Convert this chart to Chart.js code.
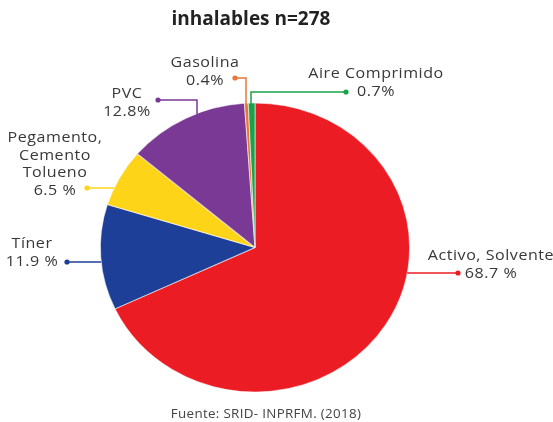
<!DOCTYPE html>
<html lang="es">
<head>
<meta charset="utf-8">
<title>inhalables n=278</title>
<script src="https://cdn.jsdelivr.net/npm/chart.js@4/dist/chart.umd.min.js"></script>
<style>
    html, body { margin: 0; padding: 0; background: #fff; }
    #wrap { width: 553px; height: 422px; position: relative; }
</style>
</head>
<body>
<div id="wrap"><canvas id="grafico"></canvas></div>
<script>
'use strict';

/* ── Datos ─────────────────────────────────────────────────────────────── */
const categorias = ['Activo, Solvente', 'Tíner', ['Pegamento,', 'Cemento', 'Tolueno'], 'PVC', 'Gasolina', 'Aire Comprimido'];
const porcentajes = [68.7, 11.9, 6.5, 12.8, 0.4, 0.7];
const sufijos = [' %', ' %', ' %', '%', '%', '%'];
const colores = ['#ec1c24', '#1e3f97', '#fed419', '#7a3994', '#e8763a', '#1aa24a'];

const titulo = 'inhalables n=278';
const fuente = 'Fuente: SRID- INPRFM. (2018)';

/* ── Posición de etiquetas (solo maquetación) ──────────────────────────────
   tx: centro del texto, ty: línea base de la primera línea,
   dot: punto del conector, codo: x del quiebre (null = línea horizontal)  */
const etiquetas = [
    { tx: 491, ty: 260, dot: [458, 273], codo: null },
    { tx: 32,  ty: 248, dot: [67, 262],  codo: null },
    { tx: 55,  ty: 142, dot: [87, 188],  codo: null },
    { tx: 127, ty: 98,  dot: [158, 100], codo: 197 },
    { tx: 205, ty: 67,  dot: [235, 78],  codo: 246 },
    { tx: 376, ty: 78,  dot: [346, 92],  codo: 251 }
];
const ESCALA_X = 1.07;   // la imagen original está algo estirada en horizontal
const FONT = '"Open Sans", sans-serif';

/* ── Estirar la torta en x ─────────────────────────────────────────────── */
const estirar = {
    id: 'estirar',
    beforeDatasetsDraw(chart) {
        const arc = chart.getDatasetMeta(0).data[0];
        const ctx = chart.ctx;
        ctx.save();
        ctx.translate(arc.x, arc.y);
        ctx.scale(ESCALA_X, 1);
        ctx.translate(-arc.x, -arc.y);
    },
    afterDatasetsDraw(chart) {
        chart.ctx.restore();
    }
};

// texto centrado y estirado igual que la imagen
function texto(ctx, t, x, y) {
    ctx.save();
    ctx.translate(x, y);
    ctx.scale(ESCALA_X, 1);
    ctx.fillText(t, 0, 0);
    ctx.restore();
}

/* ── Etiquetas, conectores, título y fuente ─────────────────────────────── */
const rotulos = {
    id: 'rotulos',
    afterDraw(chart) {
        const ctx = chart.ctx;
        const arc = chart.getDatasetMeta(0).data[0];
        const cx = arc.x, cy = arc.y, ry = arc.outerRadius, rx = ry * ESCALA_X;

        ctx.save();
        ctx.textAlign = 'center';
        ctx.textBaseline = 'alphabetic';

        // título
        ctx.fillStyle = '#222';
        ctx.font = 'bold 19px ' + FONT;
        ctx.fillText(titulo, 251, 25);

        // fuente
        ctx.fillStyle = '#444';
        ctx.font = '12.5px ' + FONT;
        ctx.letterSpacing = '0.3px';
        texto(ctx, fuente, 266, 418);

        etiquetas.forEach((e, i) => {
            const color = colores[i];
            const [dx, dy] = e.dot;

            // conector
            ctx.strokeStyle = color;
            ctx.lineWidth = 1.5;
            ctx.beginPath();
            ctx.moveTo(dx, dy);
            if (e.codo === null) {
                const k = Math.sqrt(Math.max(0, 1 - Math.pow((dy - cy) / ry, 2)));
                const ex = dx < cx ? cx - rx * k : cx + rx * k;
                ctx.lineTo(ex, dy);
            } else {
                const k = Math.sqrt(Math.max(0, 1 - Math.pow((e.codo - cx) / rx, 2)));
                ctx.lineTo(e.codo, dy);
                ctx.lineTo(e.codo, cy - ry * k + 1);
            }
            ctx.stroke();

            ctx.fillStyle = color;
            ctx.beginPath();
            ctx.arc(dx, dy, 2.6, 0, Math.PI * 2);
            ctx.fill();

            // texto
            const lineas = [].concat(categorias[i], porcentajes[i] + sufijos[i]);
            ctx.fillStyle = '#383838';
            ctx.font = '15px ' + FONT;
            ctx.letterSpacing = '0.5px';
            lineas.forEach((t, j) => texto(ctx, t, e.tx, e.ty + j * 17.5));
        });
        ctx.restore();
    }
};

new Chart(document.getElementById('grafico'), {
    type: 'pie',
    data: {
        labels: categorias.map(c => [].concat(c).join(' ')),
        datasets: [{
            data: porcentajes,
            backgroundColor: colores,
            borderColor: 'rgba(255,255,255,0.55)',
            borderWidth: 1
        }]
    },
    options: {
        responsive: true,
        maintainAspectRatio: false,
        animation: false,
        rotation: 0,
        layout: { padding: { top: 102.5, bottom: 29.5, left: 110, right: 153 } },
        plugins: {
            legend: { display: false },
            tooltip: { enabled: false }
        }
    },
    plugins: [estirar, rotulos]
});
</script>
</body>
</html>
